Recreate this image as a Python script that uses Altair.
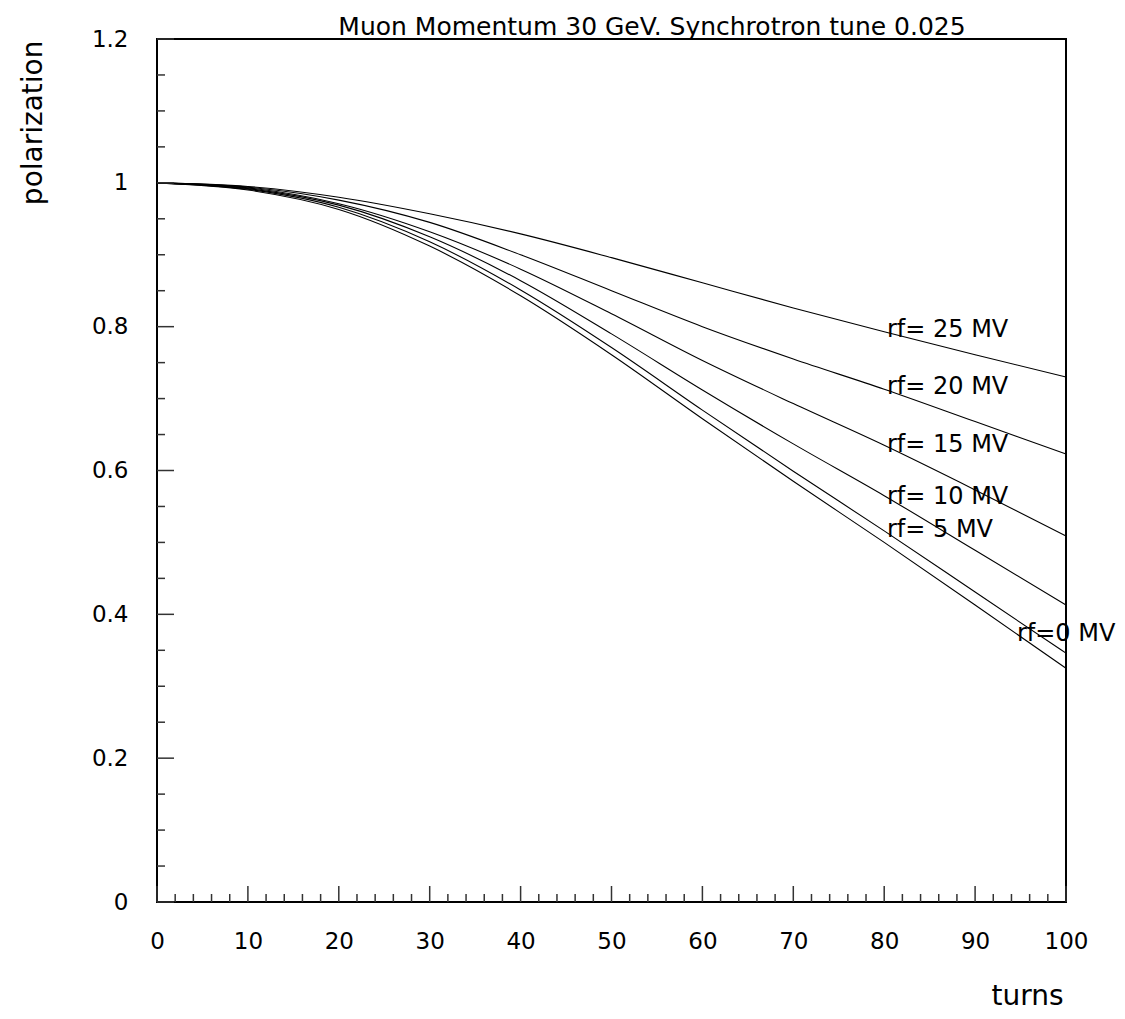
import altair as alt
import pandas as pd

turns = [0, 10, 20, 30, 40, 50, 60, 70, 80, 90, 100]
pol_0 = [1.0, 0.990, 0.963, 0.912, 0.843, 0.761, 0.672, 0.585, 0.500, 0.413, 0.325]
pol_5 = [1.0, 0.991, 0.966, 0.918, 0.851, 0.771, 0.684, 0.599, 0.516, 0.431, 0.346]
pol_10 = [1.0, 0.992, 0.969, 0.925, 0.864, 0.790, 0.712, 0.637, 0.565, 0.489, 0.413]
pol_15 = [1.0, 0.993, 0.971, 0.932, 0.880, 0.818, 0.753, 0.693, 0.635, 0.573, 0.509]
pol_20 = [1.0, 0.994, 0.976, 0.945, 0.900, 0.850, 0.800, 0.755, 0.713, 0.668, 0.623]
pol_25 = [1.0, 0.995, 0.980, 0.957, 0.929, 0.896, 0.861, 0.826, 0.793, 0.761, 0.730]

series_names = ["rf=0", "rf=5", "rf=10", "rf=15", "rf=20", "rf=25"]
series_values = [pol_0, pol_5, pol_10, pol_15, pol_20, pol_25]

label_text = ["rf= 25 MV", "rf= 20 MV", "rf= 15 MV", "rf= 10 MV", "rf= 5 MV", "rf=0 MV"]
label_turns = [80.3, 80.3, 80.3, 80.3, 80.3, 94.6]
label_pol = [0.795, 0.716, 0.636, 0.563, 0.517, 0.373]

title_text = "Muon Momentum 30 GeV. Synchrotron tune 0.025"

x_major = [0, 10, 20, 30, 40, 50, 60, 70, 80, 90, 100]
x_minor = [v for v in range(0, 101, 2) if v % 10 != 0]
y_major = [0, 0.2, 0.4, 0.6, 0.8, 1.0, 1.2]
y_minor = [round(0.05 * i, 2) for i in range(0, 25) if i % 4 != 0]

W, H = 909, 863
FONT = "DejaVu Sans"

rows = []
for name, vals in zip(series_names, series_values):
    for t, p in zip(turns, vals):
        rows.append({"series": name, "turns": t, "pol": p})
df = pd.DataFrame(rows)

labels_df = pd.DataFrame({"text": label_text, "turns": label_turns, "pol": label_pol})

xscale = alt.Scale(domain=[0, 100], nice=False, zero=False)
yscale = alt.Scale(domain=[0, 1.2], nice=False, zero=False)

xaxis = alt.Axis(
    values=x_major, format="d", ticks=False, tickSize=0, domain=False, grid=False,
    labelFont=FONT, labelFontSize=23, labelColor="black", labelBaseline="middle",
    labelPadding=39, labelFlush=False,
    title="turns", titleFont=FONT, titleFontSize=28, titleFontWeight="normal",
    titleColor="black", titleX=906, titleY=94, titleAlign="right", titleBaseline="middle")
yaxis = alt.Axis(
    values=y_major, format="~g", ticks=False, tickSize=0, domain=False, grid=False,
    labelFont=FONT, labelFontSize=23, labelColor="black", labelBaseline="middle",
    labelPadding=29, labelFlush=False,
    title="polarization", titleFont=FONT, titleFontSize=28, titleFontWeight="normal",
    titleColor="black", titleX=-124, titleY=1, titleAlign="right", titleBaseline="middle",
    titleAngle=270)


def X(field):
    return alt.X(field, scale=xscale, axis=xaxis, title="turns")


def Y(field):
    return alt.Y(field, scale=yscale, axis=yaxis, title="polarization")


lines = alt.Chart(df).mark_line(color="black", strokeWidth=1.1, interpolate="monotone").encode(
    x=X("turns:Q"), y=Y("pol:Q"), detail="series:N",
)

texts = alt.Chart(labels_df).mark_text(
    align="left", baseline="middle", font=FONT, fontSize=24, color="black"
).encode(x=X("turns:Q"), y=Y("pol:Q"), text="text:N")

title_df = pd.DataFrame({"text": [title_text]})
title = alt.Chart(title_df).mark_text(
    align="center", baseline="middle", font=FONT, fontSize=25, color="black"
).encode(x=alt.value(495), y=alt.value(-12), text="text:N")

xmaj_df = pd.DataFrame({"t": x_major})
xmin_df = pd.DataFrame({"t": x_minor})
ymaj_df = pd.DataFrame({"p": y_major})
ymin_df = pd.DataFrame({"p": y_minor})

tick_color = "#333333"
xmaj = alt.Chart(xmaj_df).mark_rule(color=tick_color, strokeWidth=1.5).encode(
    x=X("t:Q"), y=alt.value(H), y2=alt.value(H - 16))
xmin = alt.Chart(xmin_df).mark_rule(color=tick_color, strokeWidth=1.5).encode(
    x=X("t:Q"), y=alt.value(H), y2=alt.value(H - 8))
ymaj = alt.Chart(ymaj_df).mark_rule(color=tick_color, strokeWidth=1.5).encode(
    y=Y("p:Q"), x=alt.value(0), x2=alt.value(17))
ymin = alt.Chart(ymin_df).mark_rule(color=tick_color, strokeWidth=1.5).encode(
    y=Y("p:Q"), x=alt.value(0), x2=alt.value(8))

chart = alt.layer(lines, texts, xmin, xmaj, ymin, ymaj, title).properties(
    width=W, height=H,
    background="white",
    autosize=alt.AutoSizeParams(type="none"),
    padding={"left": 149, "top": 31, "right": 51, "bottom": 108},
).configure_view(stroke="black", strokeWidth=2)

chart.save("out.html", embed_options={"renderer": "svg", "actions": False})
